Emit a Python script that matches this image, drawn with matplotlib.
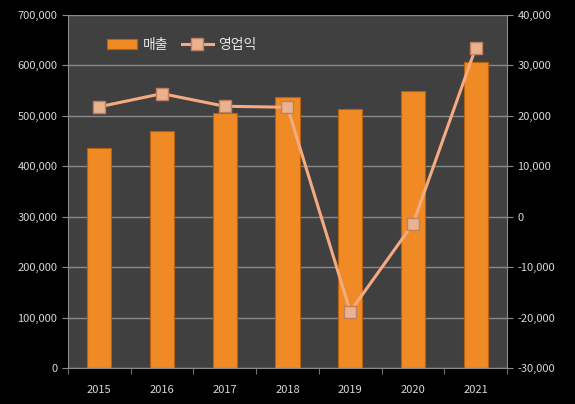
import numpy as np
import matplotlib.pyplot as plt
from matplotlib.ticker import FuncFormatter, FixedLocator

plt.rcParams['font.family'] = ['Noto Sans CJK KR', 'DejaVu Sans']

years = ['2015', '2016', '2017', '2018', '2019', '2020', '2021']
sales = [436000, 470000, 506000, 538000, 513000, 550000, 607000]
op_profit = [21800, 24400, 21900, 21700, -18800, -1400, 33500]

fig = plt.figure(figsize=(5.75, 4.04), dpi=100, facecolor='black')
ax = fig.add_axes([0.118, 0.089, 0.764, 0.874])
ax.set_facecolor('#404040')
x = np.arange(len(years))

ax.bar(x, sales, width=0.39, color='#F08A24', edgecolor='#B8620E', linewidth=0.8,
       label='매출', zorder=2)
ax.set_ylim(0, 700000)
ax.set_xlim(-0.5, len(years) - 0.5)
ax.set_yticks(range(0, 700001, 100000))
ax.yaxis.set_major_formatter(FuncFormatter(lambda v, p: f'{int(v):,}'))
ax.set_xticks(x)
ax.set_xticklabels(years)
# category boundary ticks
ax.xaxis.set_minor_locator(FixedLocator(np.arange(-0.5, len(years), 1.0)))
ax.grid(axis='y', color='#8a8a8a', linewidth=1, zorder=0)
ax.set_axisbelow(True)

ax2 = ax.twinx()
ax2.plot(x, op_profit, color='#F5AA80', linewidth=2.2, marker='s', markersize=8,
         markerfacecolor='#E9B290', markeredgecolor='#C08060', label='영업익', zorder=3)
ax2.set_ylim(-30000, 40000)
ax2.set_yticks(range(-30000, 40001, 10000))
ax2.yaxis.set_major_formatter(FuncFormatter(lambda v, p: f'{int(v):,}'))

for a in (ax, ax2):
    for s in a.spines.values():
        s.set_visible(False)
    a.tick_params(colors='#d8d8d8', labelsize=8, length=4)
ax.spines['left'].set_visible(True)
ax.spines['left'].set_color('#8a8a8a')
ax.spines['bottom'].set_visible(True)
ax.spines['bottom'].set_color('#8a8a8a')
ax2.spines['right'].set_visible(True)
ax2.spines['right'].set_color('#8a8a8a')
ax.tick_params(axis='x', which='major', length=0, pad=12)
ax.tick_params(axis='x', which='minor', length=4, color='#8a8a8a')
ax.tick_params(axis='y', color='#8a8a8a')
ax2.tick_params(axis='y', color='#8a8a8a')

h1, l1 = ax.get_legend_handles_labels()
h2, l2 = ax2.get_legend_handles_labels()
ax.legend(h1 + h2, l1 + l2, loc='upper left', bbox_to_anchor=(0.06, 0.97), ncol=2,
          frameon=False, fontsize=10, labelcolor='#e8e8e8', handlelength=2.2,
          columnspacing=1.0, handletextpad=0.4)

fig.savefig('out.png', dpi=100, facecolor='black')
